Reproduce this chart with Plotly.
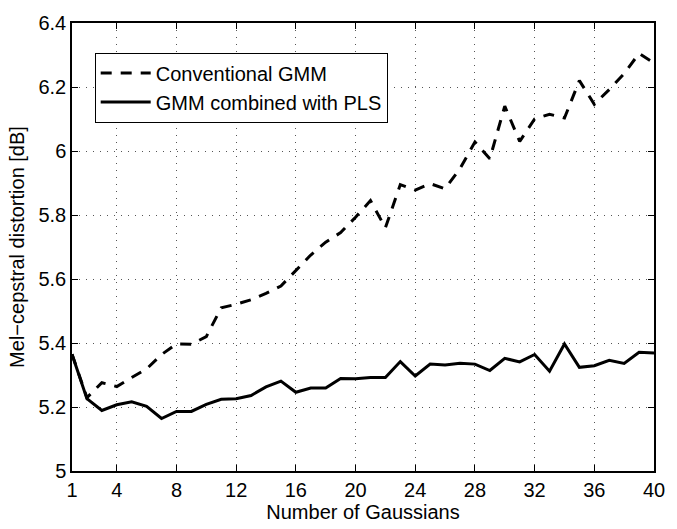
import plotly.graph_objects as go

# Number of Gaussian mixture components
n_gaussians = list(range(1, 41))

# Mel-cepstral distortion [dB] per model size
conventional_gmm = [5.365, 5.229, 5.276, 5.264, 5.292, 5.319, 5.364, 5.397, 5.396, 5.420,
                    5.510, 5.521, 5.535, 5.555, 5.578, 5.625, 5.675, 5.715, 5.745, 5.793,
                    5.845, 5.760, 5.895, 5.878, 5.898, 5.882, 5.945, 6.028, 5.976, 6.140,
                    6.030, 6.100, 6.115, 6.103, 6.220, 6.146, 6.192, 6.242, 6.305, 6.275]
gmm_with_pls = [5.365, 5.226, 5.189, 5.207, 5.216, 5.202, 5.164, 5.186, 5.186, 5.208,
                5.224, 5.226, 5.236, 5.263, 5.281, 5.246, 5.259, 5.259, 5.289, 5.288,
                5.292, 5.292, 5.342, 5.297, 5.334, 5.331, 5.337, 5.334, 5.314, 5.352,
                5.341, 5.364, 5.312, 5.397, 5.324, 5.329, 5.346, 5.336, 5.371, 5.369]

x_ticks = [1, 4, 8, 12, 16, 20, 24, 28, 32, 36, 40]
y_ticks = [5.0, 5.2, 5.4, 5.6, 5.8, 6.0, 6.2, 6.4]
y_tick_text = ["5", "5.2", "5.4", "5.6", "5.8", "6", "6.2", "6.4"]

FONT = "Liberation Sans, Arial, Helvetica, sans-serif"

fig = go.Figure()
fig.add_trace(go.Scatter(
    x=n_gaussians, y=conventional_gmm, mode="lines", name="Conventional GMM",
    line=dict(color="black", width=3, dash="11px,9px"),
))
fig.add_trace(go.Scatter(
    x=n_gaussians, y=gmm_with_pls, mode="lines", name="GMM combined with PLS",
    line=dict(color="black", width=3),
))

axis_common = dict(
    showline=True, linecolor="black", linewidth=1.5, mirror="ticks",
    ticks="inside", ticklen=6, tickwidth=1, tickcolor="black",
    showgrid=True, gridcolor="#555555", gridwidth=1, griddash="1px,6px",
    zeroline=False, tickfont=dict(family=FONT, size=20, color="black"),
)

fig.update_xaxes(
    range=[1, 40], tickvals=x_ticks,
    title=dict(text="Number of Gaussians", font=dict(family=FONT, size=20, color="black"), standoff=2),
    **axis_common,
)
fig.update_yaxes(
    range=[5, 6.4], tickvals=y_ticks, ticktext=y_tick_text,
    title=dict(text="Mel\u2212cepstral distortion [dB]", font=dict(family=FONT, size=20, color="black"), standoff=8),
    **axis_common,
)

fig.update_layout(
    width=677, height=529,
    margin=dict(l=72, r=12, t=12, b=51),
    paper_bgcolor="white", plot_bgcolor="white",
    font=dict(family=FONT, size=20, color="black"),
    showlegend=True,
    legend=dict(
        x=0.039, y=0.934, xanchor="left", yanchor="top",
        bgcolor="white", bordercolor="black", borderwidth=1,
        font=dict(family=FONT, size=20, color="black"),
        itemwidth=50, tracegroupgap=0,
    ),
)

fig.write_html("out.html")
